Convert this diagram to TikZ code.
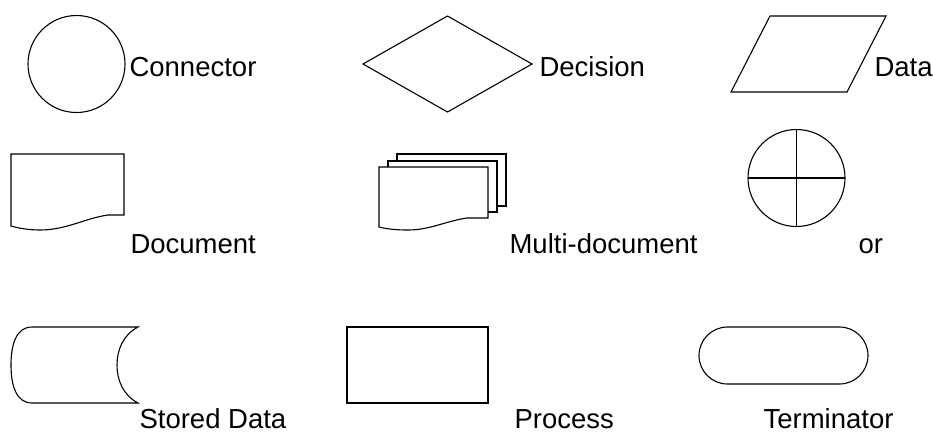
\documentclass[tikz,border=0pt]{standalone}
\usepackage{fontspec}
\setmainfont{Liberation Sans}
\usetikzlibrary{shapes.geometric}
\usetikzlibrary{shapes.misc}

\begin{document}
\begin{tikzpicture}[x=1pt, y=-1pt, line width=1.1pt,
			symbol/.style={draw, inner sep=0pt, outer sep=0pt},
			symtext/.style={anchor=base west, inner sep=0pt, font=\fontsize{27.5}{33}\selectfont}]
			\useasboundingbox (0,0) rectangle (933,432);
			
			% first row
			\node[symbol, circle, minimum size=97pt](connector) at (76.5, 64) {};
			\node[symtext](connectortext) at (129, 76) {Connector};
			
			\node[symbol, diamond, minimum width=169pt, minimum height=96pt](decision) at (447.5, 64) {};
			\node[symtext](decisiontext) at (539, 76) {Decision};
			
			\draw (770, 16) -- (886, 16) -- (847, 92) -- (731, 92) -- cycle;
			\node[symtext](datatext) at (874, 76) {Data};
			
			% second row
			\draw (11, 154) -- (124, 154) -- (124, 215) -- (108, 215) .. controls (86, 218) and (66, 230) .. (40, 230) .. controls (28, 230) and (18, 228) .. (11, 226) -- cycle;
			\node[symtext](documenttext) at (130, 253) {Document};
			
			\draw[fill=white] (397, 154) rectangle (506, 206);
			\draw[fill=white] (388, 161) rectangle (497, 212);
			\draw[fill=white] (379, 167) -- (488, 167) -- (488, 218) -- (467, 218) .. controls (446, 221) and (430, 230) .. (408, 230) .. controls (396, 230) and (387, 229) .. (379, 227) -- cycle;
			\node[symtext](multitext) at (509, 253) {Multi-document};
			
			\node[symbol, circle, minimum size=97pt](orsym) at (796.5, 178) {};
			\draw (orsym.north) -- (orsym.south);
			\draw (orsym.west) -- (orsym.east);
			\node[symtext](ortext) at (858, 253) {or};
			
			% third row
			\draw (32, 327) -- (138, 327) .. controls (123, 335) and (117, 350) .. (117, 365) .. controls (117, 380) and (123, 395) .. (138, 403) -- (32, 403) .. controls (16, 403) and (11, 385) .. (11, 365) .. controls (11, 345) and (16, 327) .. (32, 327) -- cycle;
			\node[symtext](storedtext) at (139, 428) {Stored Data};
			
			\node[symbol, rectangle, minimum width=141pt, minimum height=76pt](process) at (417.5, 365) {};
			\node[symtext](processtext) at (514, 428) {Process};
			
			\node[symbol, rounded rectangle, minimum width=169pt, minimum height=57pt](terminator) at (783.5, 355.5) {};
			\node[symtext](terminatortext) at (763, 428) {Terminator};
\end{tikzpicture}
\end{document}
